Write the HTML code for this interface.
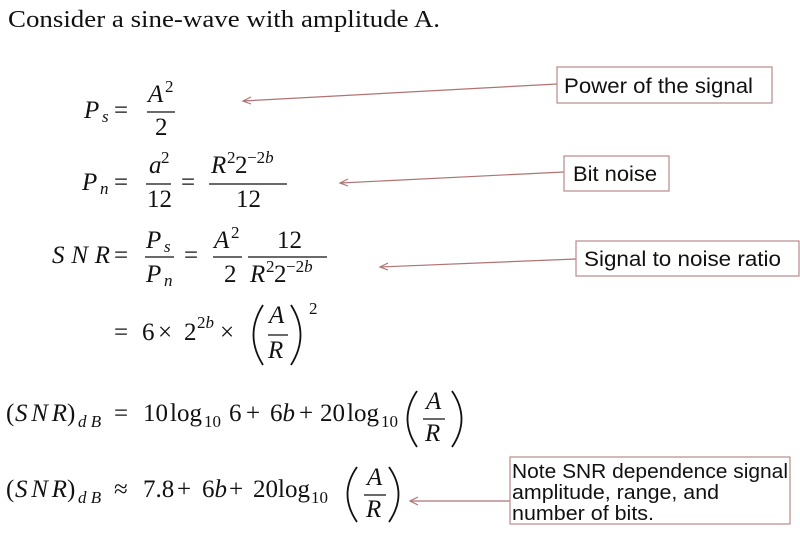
<!DOCTYPE html>
<html><head><meta charset="utf-8"><style>
html,body{margin:0;padding:0;background:#fff;}
svg{display:block;}
.m{font-family:"Liberation Serif",serif;font-size:25px;fill:#111;}
.i{font-style:italic;}
.s{font-size:17px;}
.b{font-family:"Liberation Sans",sans-serif;font-size:21px;fill:#111;}
</style></head><body>
<svg width="800" height="543" viewBox="0 0 800 543" xmlns="http://www.w3.org/2000/svg">
<text x="8" y="27" class="m" style="font-size:24px" textLength="432" lengthAdjust="spacingAndGlyphs">Consider a sine-wave with amplitude A.</text>

<text x="84" y="118" class="m i">P</text><text x="102" y="122" class="m i s">s</text>
<text x="114" y="118" class="m">=</text>
<text x="148" y="102" class="m i">A</text><text x="165" y="92" class="m s">2</text>
<line x1="147" y1="112" x2="175" y2="112" stroke="#111" stroke-width="1.2"/>
<text x="155" y="135" class="m">2</text>

<text x="82" y="190" class="m i">P</text><text x="100" y="194" class="m i s">n</text>
<text x="114" y="190" class="m">=</text>
<text x="149" y="173" class="m i">a</text><text x="161" y="163" class="m s">2</text>
<line x1="146" y1="184" x2="171" y2="184" stroke="#111" stroke-width="1.2"/>
<text x="147" y="207" class="m">12</text>
<text x="181" y="190" class="m">=</text>
<text x="211" y="173" class="m i">R</text><text x="227" y="163" class="m s">2</text><text x="235" y="173" class="m">2</text><text x="247" y="163" class="m s">−2<tspan font-style="italic">b</tspan></text>
<line x1="209" y1="184" x2="287" y2="184" stroke="#111" stroke-width="1.2"/>
<text x="236" y="207" class="m">12</text>

<text x="52" y="263" class="m i" textLength="58" lengthAdjust="spacing">SNR</text>
<text x="114" y="263" class="m">=</text>
<text x="146" y="248" class="m i">P</text><text x="164" y="252" class="m i s">s</text>
<line x1="145" y1="257" x2="174" y2="257" stroke="#111" stroke-width="1.2"/>
<text x="146" y="282" class="m i">P</text><text x="164" y="286" class="m i s">n</text>
<text x="184" y="263" class="m">=</text>
<text x="214" y="248" class="m i">A</text><text x="231" y="238" class="m s">2</text>
<line x1="213" y1="257" x2="242" y2="257" stroke="#111" stroke-width="1.2"/>
<text x="224" y="282" class="m">2</text>
<text x="277" y="248" class="m">12</text>
<line x1="248" y1="257" x2="327" y2="257" stroke="#111" stroke-width="1.2"/>
<text x="250" y="282" class="m i">R</text><text x="266" y="272" class="m s">2</text><text x="274" y="282" class="m">2</text><text x="286" y="272" class="m s">−2<tspan font-style="italic">b</tspan></text>

<text x="114" y="340" class="m">=</text>
<text x="142" y="340" class="m">6</text>
<text x="158" y="340" class="m">×</text>
<text x="184" y="340" class="m">2</text><text x="197" y="328" class="m s">2<tspan font-style="italic">b</tspan></text>
<text x="220" y="340" class="m">×</text>
<path d="M263 305 Q244 335 263 365" fill="none" stroke="#111" stroke-width="1.8"/>
<path d="M291 305 Q310 335 291 365" fill="none" stroke="#111" stroke-width="1.8"/>
<text x="269" y="323" class="m i">A</text>
<line x1="268" y1="335" x2="288" y2="335" stroke="#111" stroke-width="1.2"/>
<text x="268" y="358" class="m i">R</text>
<text x="309" y="314" class="m s">2</text>

<text x="6" y="421" class="m">(</text><text x="15" y="421" class="m i" textLength="52" lengthAdjust="spacing">SNR</text><text x="67" y="421" class="m">)</text>
<text x="78" y="427" class="m i s">d B</text>
<text x="114" y="421" class="m">=</text>
<text x="143" y="421" class="m">10</text>
<text x="170" y="421" class="m">log</text><text x="204" y="427" class="m s">10</text>
<text x="229" y="421" class="m">6</text>
<text x="246" y="421" class="m">+</text>
<text x="270" y="421" class="m">6<tspan font-style="italic">b</tspan></text>
<text x="299" y="421" class="m">+</text>
<text x="320" y="421" class="m">20</text>
<text x="347" y="421" class="m">log</text><text x="381" y="427" class="m s">10</text>
<path d="M417 391 Q398 419 417 447" fill="none" stroke="#111" stroke-width="1.8"/>
<path d="M452 391 Q471 419 452 447" fill="none" stroke="#111" stroke-width="1.8"/>
<text x="426" y="409" class="m i">A</text>
<line x1="423" y1="419" x2="445" y2="419" stroke="#111" stroke-width="1.2"/>
<text x="425" y="441" class="m i">R</text>

<text x="6" y="497" class="m">(</text><text x="15" y="497" class="m i" textLength="52" lengthAdjust="spacing">SNR</text><text x="67" y="497" class="m">)</text>
<text x="78" y="503" class="m i s">d B</text>
<text x="114" y="497" class="m">≈</text>
<text x="143" y="497" class="m">7.8</text>
<text x="177" y="497" class="m">+</text>
<text x="202" y="497" class="m">6<tspan font-style="italic">b</tspan></text>
<text x="229" y="497" class="m">+</text>
<text x="253" y="497" class="m">20</text>
<text x="278" y="497" class="m">log</text><text x="311" y="503" class="m s">10</text>
<path d="M357 467 Q338 494 357 522" fill="none" stroke="#111" stroke-width="1.8"/>
<path d="M389 467 Q408 494 389 522" fill="none" stroke="#111" stroke-width="1.8"/>
<text x="367" y="485" class="m i">A</text>
<line x1="364" y1="495" x2="386" y2="495" stroke="#111" stroke-width="1.2"/>
<text x="366" y="517" class="m i">R</text>

<g stroke="#b07373" stroke-width="1.2" fill="none">
<line x1="557" y1="84" x2="243" y2="101"/><polyline points="251,97 243,101 251,104"/>
<line x1="564" y1="172" x2="340" y2="183"/><polyline points="348,179 340,183 348,186"/>
<line x1="576" y1="259" x2="380" y2="267"/><polyline points="388,263 380,267 388,270"/>
<line x1="510" y1="501" x2="410" y2="501"/><polyline points="418,497 410,501 418,505"/>
</g>
<g stroke="#b98a8a" stroke-width="1.2" fill="#fff">
<rect x="557" y="67" width="215" height="36"/>
<rect x="564" y="156" width="105" height="35"/>
<rect x="576" y="241" width="223" height="35"/>
<rect x="510" y="457" width="280" height="67"/>
</g>
<text x="564" y="93" class="b" textLength="189" lengthAdjust="spacingAndGlyphs">Power of the signal</text>
<text x="573" y="181" class="b" textLength="84" lengthAdjust="spacingAndGlyphs">Bit noise</text>
<text x="584" y="266" class="b" textLength="197" lengthAdjust="spacingAndGlyphs">Signal to noise ratio</text>
<text x="512" y="478" class="b" style="font-size:20px" textLength="276" lengthAdjust="spacingAndGlyphs">Note SNR dependence signal</text>
<text x="512" y="499" class="b" style="font-size:20px" textLength="207" lengthAdjust="spacingAndGlyphs">amplitude, range, and</text>
<text x="512" y="520" class="b" style="font-size:20px" textLength="142" lengthAdjust="spacingAndGlyphs">number of bits.</text>
</svg>
</body></html>
